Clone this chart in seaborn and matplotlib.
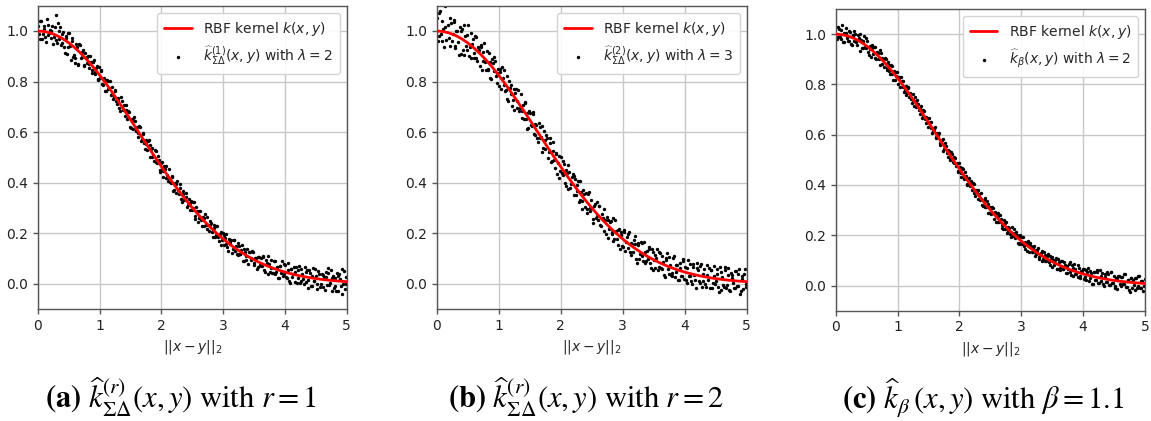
import matplotlib
matplotlib.use("Agg")
import matplotlib.pyplot as plt
import seaborn as sns

# ---------------- data ----------------
curve_x = [0.0, 0.1, 0.2, 0.3, 0.4, 0.5, 0.6, 0.7, 0.8, 0.9, 1.0, 1.1, 1.2, 1.3, 1.4, 1.5, 1.6,
           1.7, 1.8, 1.9, 2.0, 2.1, 2.2, 2.3, 2.4, 2.5, 2.6, 2.7, 2.8, 2.9, 3.0, 3.1, 3.2, 3.3,
           3.4, 3.5, 3.6, 3.7, 3.8, 3.9, 4.0, 4.1, 4.2, 4.3, 4.4, 4.5, 4.6, 4.7, 4.8, 4.9, 5.0]
curve_y = [1.0, 0.9981, 0.9923, 0.9828, 0.9697, 0.9531, 0.9331, 0.9101, 0.8842, 0.8558, 0.8250,
           0.7924, 0.7581, 0.7225, 0.6860, 0.6488, 0.6112, 0.5736, 0.5363, 0.4995, 0.4634,
           0.4282, 0.3943, 0.3616, 0.3303, 0.3006, 0.2725, 0.2461, 0.2214, 0.1984, 0.1771,
           0.1575, 0.1396, 0.1232, 0.1083, 0.0948, 0.0827, 0.0719, 0.0622, 0.0537, 0.0461,
           0.0395, 0.0336, 0.0286, 0.0242, 0.0204, 0.0171, 0.0143, 0.0119, 0.0099, 0.0082]

dist_x_1 = [
    0.004, 0.031, 0.047, 0.078, 0.102, 0.126, 0.158, 0.181,
    0.207, 0.229, 0.261, 0.284, 0.303, 0.334, 0.352, 0.388,
    0.409, 0.433, 0.455, 0.482, 0.506, 0.531, 0.559, 0.583,
    0.602, 0.628, 0.654, 0.677, 0.709, 0.725, 0.753, 0.786,
    0.811, 0.834, 0.857, 0.879, 0.903, 0.931, 0.952, 0.978,
    1.006, 1.027, 1.052, 1.083, 1.104, 1.129, 1.151, 1.176,
    1.203, 1.231, 1.255, 1.278, 1.301, 1.326, 1.357, 1.382,
    1.407, 1.428, 1.452, 1.476, 1.509, 1.533, 1.556, 1.581,
    1.604, 1.627, 1.659, 1.681, 1.705, 1.729, 1.754, 1.778,
    1.809, 1.832, 1.853, 1.884, 1.906, 1.928, 1.957, 1.981,
    2.003, 2.031, 2.054, 2.079, 2.102, 2.126, 2.158, 2.177,
    2.208, 2.229, 2.256, 2.283, 2.305, 2.331, 2.352, 2.384,
    2.405, 2.432, 2.457, 2.478, 2.506, 2.529, 2.551, 2.583,
    2.607, 2.626, 2.653, 2.682, 2.701, 2.733, 2.756, 2.779,
    2.808, 2.835, 2.851, 2.877, 2.904, 2.932, 2.958, 2.976,
    3.009, 3.028, 3.053, 3.081, 3.106, 3.127, 3.155, 3.182,
    3.204, 3.233, 3.252, 3.279, 3.308, 3.331, 3.354, 3.377,
    3.402, 3.431, 3.456, 3.483, 3.504, 3.526, 3.559, 3.584,
    3.606, 3.629, 3.651, 3.678, 3.707, 3.732, 3.753, 3.781,
    3.803, 3.834, 3.855, 3.876, 3.909, 3.927, 3.952, 3.979,
    4.006, 4.032, 4.051, 4.082, 4.103, 4.128, 4.156, 4.183,
    4.207, 4.228, 4.254, 4.281, 4.302, 4.334, 4.357, 4.379,
    4.404, 4.431, 4.452, 4.476, 4.508, 4.527, 4.553, 4.582,
    4.609, 4.628, 4.657, 4.679, 4.703, 4.731, 4.756, 4.778,
    4.806, 4.833, 4.854, 4.881, 4.905, 4.929, 4.958, 4.984,
]
dist_x_2 = [
    0.016, 0.040, 0.062, 0.091, 0.114, 0.141, 0.169, 0.193,
    0.218, 0.244, 0.272, 0.296, 0.319, 0.343, 0.371, 0.396,
    0.421, 0.446, 0.469, 0.494, 0.518, 0.546, 0.571, 0.594,
    0.617, 0.641, 0.666, 0.693, 0.717, 0.741, 0.768, 0.797,
    0.822, 0.846, 0.868, 0.892, 0.917, 0.942, 0.966, 0.991,
    1.016, 1.041, 1.068, 1.093, 1.117, 1.141, 1.164, 1.191,
    1.217, 1.243, 1.266, 1.291, 1.314, 1.342, 1.369, 1.393,
    1.418, 1.441, 1.464, 1.492, 1.521, 1.546, 1.569, 1.592,
    1.616, 1.643, 1.669, 1.693, 1.717, 1.742, 1.766, 1.791,
    1.821, 1.843, 1.869, 1.896, 1.917, 1.943, 1.969, 1.992,
    2.017, 2.043, 2.066, 2.091, 2.114, 2.142, 2.167, 2.191,
    2.218, 2.243, 2.269, 2.294, 2.318, 2.342, 2.368, 2.393,
    2.419, 2.444, 2.468, 2.492, 2.517, 2.541, 2.567, 2.594,
    2.616, 2.641, 2.668, 2.692, 2.717, 2.744, 2.768, 2.792,
    2.821, 2.843, 2.864, 2.891, 2.918, 2.944, 2.967, 2.991,
    3.018, 3.041, 3.067, 3.093, 3.117, 3.141, 3.168, 3.193,
    3.219, 3.242, 3.266, 3.293, 3.319, 3.342, 3.366, 3.391,
    3.417, 3.443, 3.469, 3.494, 3.516, 3.543, 3.571, 3.593,
    3.618, 3.641, 3.666, 3.692, 3.719, 3.742, 3.767, 3.793,
    3.818, 3.843, 3.866, 3.892, 3.918, 3.941, 3.966, 3.992,
    4.019, 4.042, 4.067, 4.093, 4.116, 4.142, 4.169, 4.194,
    4.218, 4.241, 4.267, 4.292, 4.318, 4.346, 4.368, 4.392,
    4.417, 4.443, 4.466, 4.493, 4.518, 4.541, 4.568, 4.593,
    4.618, 4.643, 4.668, 4.692, 4.717, 4.744, 4.767, 4.792,
    4.818, 4.843, 4.867, 4.893, 4.917, 4.943, 4.971, 4.996,
]

approx_a_1 = [
    1.020, 0.970, 1.040, 0.989, 1.008, 0.957, 1.025, 0.994,
    0.972, 1.020, 0.977, 1.065, 0.952, 0.999, 1.016, 0.951,
    0.998, 0.914, 0.971, 0.936, 0.992, 0.887, 0.962, 0.907,
    0.893, 0.937, 0.871, 0.945, 0.898, 0.924, 0.867, 0.898,
    0.901, 0.855, 0.878, 0.832, 0.885, 0.836, 0.860, 0.812,
    0.813, 0.846, 0.788, 0.808, 0.761, 0.802, 0.775, 0.746,
    0.777, 0.737, 0.768, 0.710, 0.732, 0.683, 0.722, 0.693,
    0.663, 0.706, 0.657, 0.678, 0.615, 0.646, 0.658, 0.608,
    0.620, 0.581, 0.619, 0.571, 0.592, 0.533, 0.553, 0.565,
    0.503, 0.535, 0.537, 0.485, 0.527, 0.479, 0.489, 0.450,
    0.482, 0.422, 0.454, 0.465, 0.407, 0.419, 0.398, 0.422,
    0.371, 0.394, 0.406, 0.357, 0.380, 0.322, 0.355, 0.335,
    0.359, 0.311, 0.293, 0.327, 0.299, 0.322, 0.256, 0.287,
    0.261, 0.286, 0.229, 0.261, 0.276, 0.218, 0.232, 0.247,
    0.240, 0.183, 0.219, 0.193, 0.228, 0.171, 0.206, 0.172,
    0.155, 0.182, 0.197, 0.131, 0.156, 0.172, 0.137, 0.173,
    0.149, 0.114, 0.151, 0.116, 0.152, 0.088, 0.125, 0.111,
    0.078, 0.124, 0.101, 0.127, 0.084, 0.102, 0.068, 0.105,
    0.102, 0.070, 0.107, 0.045, 0.081, 0.109, 0.047, 0.064,
    0.042, 0.089, 0.047, 0.066, 0.023, 0.071, 0.090, 0.038,
    0.076, 0.024, 0.053, 0.001, 0.059, 0.038, 0.006, 0.065,
    0.023, 0.072, 0.011, 0.039, -0.002, 0.047, 0.056, -0.015,
    0.044, -0.007, 0.062, 0.011, 0.030, -0.021, 0.038, -0.003,
    -0.013, 0.026, 0.045, -0.005, 0.064, 0.003, -0.027, 0.032,
    0.022, -0.029, 0.031, 0.040, -0.010, -0.041, 0.049, -0.002,
]
approx_a_2 = [
    0.990, 1.040, 0.969, 1.018, 0.978, 1.046, 0.985, 1.003,
    1.001, 0.949, 1.016, 0.963, 1.031, 0.968, 0.944, 0.990,
    0.936, 0.982, 0.909, 0.994, 0.940, 0.974, 0.899, 0.875,
    0.949, 0.864, 0.948, 0.892, 0.916, 0.860, 0.913, 0.875,
    0.868, 0.901, 0.845, 0.878, 0.831, 0.853, 0.806, 0.858,
    0.840, 0.791, 0.813, 0.764, 0.807, 0.769, 0.801, 0.751,
    0.732, 0.762, 0.724, 0.736, 0.697, 0.737, 0.687, 0.708,
    0.689, 0.651, 0.682, 0.622, 0.650, 0.611, 0.643, 0.604,
    0.595, 0.625, 0.565, 0.596, 0.557, 0.567, 0.528, 0.569,
    0.548, 0.500, 0.511, 0.531, 0.483, 0.504, 0.444, 0.476,
    0.447, 0.467, 0.419, 0.431, 0.453, 0.403, 0.425, 0.366,
    0.397, 0.360, 0.371, 0.393, 0.336, 0.368, 0.330, 0.342,
    0.304, 0.337, 0.320, 0.293, 0.325, 0.269, 0.302, 0.244,
    0.288, 0.252, 0.265, 0.228, 0.232, 0.265, 0.209, 0.233,
    0.206, 0.231, 0.186, 0.230, 0.184, 0.198, 0.154, 0.199,
    0.193, 0.159, 0.144, 0.178, 0.164, 0.120, 0.175, 0.130,
    0.116, 0.162, 0.118, 0.134, 0.090, 0.136, 0.093, 0.139,
    0.126, 0.092, 0.129, 0.075, 0.103, 0.060, 0.106, 0.074,
    0.071, 0.108, 0.056, 0.093, 0.040, 0.078, 0.095, 0.043,
    0.091, 0.038, 0.066, 0.024, 0.072, 0.041, 0.029, 0.077,
    0.025, 0.083, 0.012, 0.060, 0.028, 0.067, 0.045, 0.004,
    0.053, 0.001, 0.060, 0.019, 0.067, 0.006, 0.015, 0.054,
    -0.007, 0.032, 0.011, 0.060, -0.001, 0.049, -0.012, 0.037,
    0.036, -0.024, 0.025, 0.044, -0.006, 0.053, 0.022, -0.018,
    -0.009, 0.041, -0.030, 0.020, 0.059, -0.001, -0.022, 0.028,
]

approx_b_1 = [
    1.050, 0.980, 1.080, 0.959, 1.008, 1.097, 0.965, 1.024,
    0.942, 1.030, 0.987, 1.045, 0.942, 0.999, 0.906, 1.001,
    1.008, 0.904, 0.981, 0.926, 1.022, 0.937, 0.892, 0.967,
    0.913, 0.977, 0.881, 0.925, 0.938, 0.844, 0.917, 0.878,
    0.921, 0.845, 0.878, 0.812, 0.875, 0.896, 0.820, 0.832,
    0.783, 0.836, 0.858, 0.788, 0.761, 0.822, 0.725, 0.776,
    0.787, 0.727, 0.688, 0.770, 0.722, 0.683, 0.752, 0.683,
    0.653, 0.716, 0.677, 0.618, 0.675, 0.626, 0.678, 0.588,
    0.630, 0.561, 0.619, 0.581, 0.522, 0.603, 0.533, 0.575,
    0.523, 0.575, 0.487, 0.525, 0.457, 0.519, 0.479, 0.420,
    0.502, 0.432, 0.474, 0.385, 0.437, 0.469, 0.378, 0.422,
    0.351, 0.414, 0.366, 0.407, 0.330, 0.362, 0.295, 0.355,
    0.359, 0.281, 0.363, 0.287, 0.299, 0.242, 0.316, 0.267,
    0.251, 0.306, 0.229, 0.261, 0.296, 0.198, 0.252, 0.217,
    0.250, 0.203, 0.169, 0.253, 0.178, 0.211, 0.136, 0.192,
    0.145, 0.212, 0.167, 0.141, 0.206, 0.112, 0.157, 0.173,
    0.159, 0.084, 0.161, 0.116, 0.162, 0.088, 0.125, 0.091,
    0.098, 0.144, 0.061, 0.127, 0.094, 0.062, 0.138, 0.065,
    0.122, 0.060, 0.087, 0.025, 0.101, 0.059, 0.107, 0.034,
    0.032, 0.109, 0.047, 0.076, 0.013, 0.081, 0.030, 0.088,
    0.066, 0.004, 0.093, 0.031, 0.009, 0.078, 0.036, -0.015,
    0.063, 0.012, 0.071, -0.011, 0.038, -0.003, 0.076, 0.015,
    -0.016, 0.053, 0.002, 0.071, 0.010, 0.039, -0.032, 0.047,
    0.027, -0.014, 0.055, -0.005, 0.064, -0.027, 0.033, 0.002,
    -0.018, 0.051, -0.009, 0.060, -0.030, 0.019, 0.039, -0.012,
]
approx_b_2 = [
    0.960, 1.070, 0.989, 1.038, 0.938, 1.016, 1.105, 0.973,
    1.051, 0.959, 1.036, 0.933, 1.001, 0.958, 1.014, 0.910,
    0.926, 1.022, 0.939, 0.984, 0.900, 0.994, 0.949, 0.895,
    0.979, 0.894, 0.938, 0.862, 0.946, 0.880, 0.953, 0.845,
    0.848, 0.911, 0.815, 0.888, 0.841, 0.883, 0.796, 0.848,
    0.850, 0.771, 0.813, 0.844, 0.767, 0.729, 0.801, 0.751,
    0.702, 0.772, 0.754, 0.696, 0.767, 0.697, 0.657, 0.708,
    0.719, 0.651, 0.612, 0.682, 0.630, 0.671, 0.593, 0.634,
    0.575, 0.635, 0.575, 0.626, 0.537, 0.567, 0.588, 0.499,
    0.558, 0.480, 0.561, 0.491, 0.513, 0.434, 0.504, 0.446,
    0.437, 0.487, 0.399, 0.451, 0.373, 0.443, 0.395, 0.436,
    0.427, 0.350, 0.391, 0.323, 0.406, 0.328, 0.370, 0.302,
    0.294, 0.357, 0.300, 0.333, 0.255, 0.309, 0.262, 0.324,
    0.308, 0.232, 0.275, 0.208, 0.252, 0.265, 0.179, 0.243,
    0.196, 0.261, 0.176, 0.210, 0.154, 0.218, 0.204, 0.149,
    0.203, 0.129, 0.184, 0.198, 0.124, 0.160, 0.125, 0.190,
    0.096, 0.152, 0.098, 0.164, 0.110, 0.166, 0.083, 0.129,
    0.136, 0.082, 0.139, 0.055, 0.113, 0.100, 0.056, 0.124,
    0.061, 0.108, 0.036, 0.093, 0.120, 0.038, 0.075, 0.043,
    0.101, 0.028, 0.076, 0.014, 0.062, 0.031, 0.099, 0.017,
    0.015, 0.063, 0.032, 0.080, -0.002, 0.067, 0.015, 0.084,
    0.053, 0.001, 0.080, 0.009, 0.057, -0.014, 0.035, 0.064,
    0.053, -0.018, 0.031, 0.000, 0.059, -0.011, 0.068, -0.023,
    -0.004, 0.066, -0.015, 0.034, -0.026, 0.043, 0.022, -0.018,
    0.051, -0.009, 0.040, -0.040, 0.029, -0.021, 0.058, -0.002,
]

approx_c_1 = [
    1.030, 0.990, 1.020, 0.979, 1.038, 0.967, 1.005, 0.984,
    0.972, 1.010, 0.957, 0.995, 1.012, 0.969, 0.996, 0.931,
    0.978, 0.944, 0.991, 0.946, 0.972, 0.917, 0.942, 0.957,
    0.923, 0.947, 0.901, 0.925, 0.878, 0.924, 0.907, 0.868,
    0.901, 0.865, 0.878, 0.842, 0.875, 0.816, 0.850, 0.832,
    0.803, 0.826, 0.828, 0.788, 0.771, 0.792, 0.765, 0.786,
    0.767, 0.727, 0.738, 0.750, 0.712, 0.723, 0.682, 0.713,
    0.673, 0.696, 0.647, 0.668, 0.665, 0.626, 0.608, 0.628,
    0.630, 0.591, 0.599, 0.561, 0.572, 0.583, 0.543, 0.555,
    0.513, 0.535, 0.507, 0.525, 0.487, 0.509, 0.489, 0.450,
    0.472, 0.432, 0.464, 0.425, 0.437, 0.399, 0.428, 0.402,
    0.381, 0.404, 0.356, 0.377, 0.380, 0.342, 0.345, 0.315,
    0.349, 0.311, 0.323, 0.287, 0.309, 0.312, 0.266, 0.287,
    0.251, 0.276, 0.279, 0.241, 0.226, 0.248, 0.252, 0.217,
    0.230, 0.193, 0.209, 0.223, 0.188, 0.201, 0.166, 0.202,
    0.165, 0.192, 0.147, 0.171, 0.176, 0.132, 0.157, 0.133,
    0.159, 0.124, 0.141, 0.106, 0.122, 0.138, 0.105, 0.121,
    0.098, 0.124, 0.081, 0.107, 0.114, 0.082, 0.108, 0.065,
    0.092, 0.060, 0.097, 0.065, 0.081, 0.049, 0.067, 0.094,
    0.042, 0.069, 0.087, 0.046, 0.033, 0.071, 0.040, 0.058,
    0.066, 0.034, 0.023, 0.071, 0.029, 0.048, 0.006, 0.055,
    0.023, 0.062, 0.011, 0.039, 0.048, -0.003, 0.036, 0.015,
    0.044, 0.003, 0.052, 0.011, 0.000, 0.029, -0.012, 0.037,
    -0.003, 0.036, 0.005, 0.045, -0.006, 0.023, -0.027, 0.032,
    0.022, -0.019, 0.031, 0.000, 0.040, -0.011, 0.019, -0.002,
]
approx_c_2 = [
    0.980, 1.030, 0.989, 1.018, 0.968, 1.006, 1.025, 0.973,
    1.011, 0.959, 0.996, 0.973, 1.001, 0.958, 0.984, 1.000,
    0.946, 0.972, 0.949, 0.984, 0.930, 0.954, 0.909, 0.945,
    0.949, 0.904, 0.928, 0.902, 0.936, 0.880, 0.903, 0.905,
    0.858, 0.891, 0.855, 0.878, 0.841, 0.853, 0.816, 0.848,
    0.830, 0.791, 0.813, 0.814, 0.777, 0.759, 0.791, 0.751,
    0.742, 0.762, 0.714, 0.736, 0.737, 0.697, 0.707, 0.668,
    0.699, 0.661, 0.672, 0.632, 0.650, 0.651, 0.613, 0.624,
    0.585, 0.605, 0.605, 0.566, 0.577, 0.537, 0.568, 0.529,
    0.538, 0.500, 0.531, 0.491, 0.513, 0.474, 0.454, 0.486,
    0.447, 0.467, 0.429, 0.451, 0.403, 0.423, 0.395, 0.416,
    0.407, 0.370, 0.381, 0.343, 0.366, 0.368, 0.320, 0.342,
    0.314, 0.337, 0.290, 0.313, 0.285, 0.309, 0.292, 0.254,
    0.288, 0.252, 0.265, 0.228, 0.262, 0.225, 0.209, 0.233,
    0.206, 0.231, 0.196, 0.210, 0.214, 0.168, 0.194, 0.169,
    0.193, 0.159, 0.174, 0.138, 0.164, 0.170, 0.135, 0.150,
    0.116, 0.142, 0.148, 0.114, 0.130, 0.096, 0.133, 0.099,
    0.116, 0.092, 0.119, 0.075, 0.103, 0.100, 0.066, 0.104,
    0.071, 0.098, 0.066, 0.093, 0.050, 0.078, 0.085, 0.053,
    0.081, 0.038, 0.066, 0.044, 0.082, 0.031, 0.059, 0.067,
    0.025, 0.063, 0.052, 0.020, 0.058, 0.007, 0.055, 0.024,
    0.053, 0.011, 0.060, 0.019, 0.007, 0.046, 0.015, 0.054,
    0.003, 0.052, 0.011, 0.040, -0.011, 0.029, 0.038, 0.007,
    0.036, 0.006, 0.045, -0.006, 0.024, -0.017, 0.032, -0.008,
    0.001, 0.031, -0.010, 0.040, -0.011, 0.019, -0.022, 0.028,
]

curve_label = r"RBF kernel $k(x, y)$"
point_labels = [
    r"$\widehat{k}^{(1)}_{\Sigma\Delta}(x, y)$ with $\lambda = 2$",
    r"$\widehat{k}^{(2)}_{\Sigma\Delta}(x, y)$ with $\lambda = 3$",
    r"$\widehat{k}_{\beta}(x, y)$ with $\lambda = 2$",
]
captions = [
    r"$\mathbf{(a)}$ $\widehat{k}^{(r)}_{\Sigma\Delta}(x,y)$ with $r=1$",
    r"$\mathbf{(b)}$ $\widehat{k}^{(r)}_{\Sigma\Delta}(x,y)$ with $r=2$",
    r"$\mathbf{(c)}$ $\widehat{k}_{\beta}\,(x,y)$ with $\beta=1.1$",
]
x_ticks = [0, 1, 2, 3, 4, 5]
y_ticks = [0.0, 0.2, 0.4, 0.6, 0.8, 1.0]
x_label = r"$||x - y||_2$"

# ---------------- style ----------------
sns.set_theme(style="whitegrid", rc={
    "axes.edgecolor": "#555555",
    "axes.linewidth": 1.0,
    "grid.color": "#c8c8c8",
    "grid.linewidth": 1.0,
    "xtick.bottom": True,
    "ytick.left": True,
    "xtick.color": "#555555",
    "ytick.color": "#555555",
    "xtick.labelcolor": "#222222",
    "ytick.labelcolor": "#222222",
    "xtick.major.size": 3.5,
    "ytick.major.size": 3.5,
    "xtick.major.width": 1.0,
    "ytick.major.width": 1.0,
    "font.size": 10,
    "xtick.labelsize": 10,
    "ytick.labelsize": 10,
    "axes.labelsize": 10,
    "legend.fontsize": 10,
})
plt.rcParams["font.family"] = ["DejaVu Sans"]

fig = plt.figure(figsize=(11.51, 4.21), dpi=100)
positions = [
    [0.0330, 0.2660, 0.2682, 0.7204],
    [0.3794, 0.2660, 0.2693, 0.7204],
    [0.7261, 0.2620, 0.2687, 0.7166],
]
caption_x = [0.157, 0.509, 0.854]
series = [(approx_a_1, approx_a_2), (approx_b_1, approx_b_2), (approx_c_1, approx_c_2)]

for i in range(3):
    ax = fig.add_axes(positions[i])
    sns.lineplot(x=curve_x, y=curve_y, ax=ax, color="#ff0000", linewidth=2.0,
                 label=curve_label, zorder=3)
    sns.scatterplot(x=dist_x_1 + dist_x_2, y=series[i][0] + series[i][1], ax=ax,
                    color="black", s=6, linewidth=0, label=point_labels[i], zorder=2)
    ax.set_xlim(0, 5)
    ax.set_ylim(-0.1, 1.1)
    ax.set_xticks(x_ticks)
    ax.set_yticks(y_ticks)
    ax.set_yticklabels([f"{v:.1f}" for v in y_ticks])
    ax.set_xlabel(x_label, labelpad=4)
    ax.set_ylabel("")
    for s in ax.spines.values():
        s.set_color("#555555")
    ax.legend(loc="upper right", scatterpoints=1, markerscale=1.0,
              frameon=True, fancybox=True, framealpha=0.9,
              edgecolor="#d0d0d0", borderpad=0.5, handlelength=2.0)
    fig.text(caption_x[i], 0.055, captions[i], ha="center", va="center",
             fontsize=22, family="STIXGeneral", math_fontfamily="stix",
             color="black")

fig.savefig("out.png", dpi=100)
